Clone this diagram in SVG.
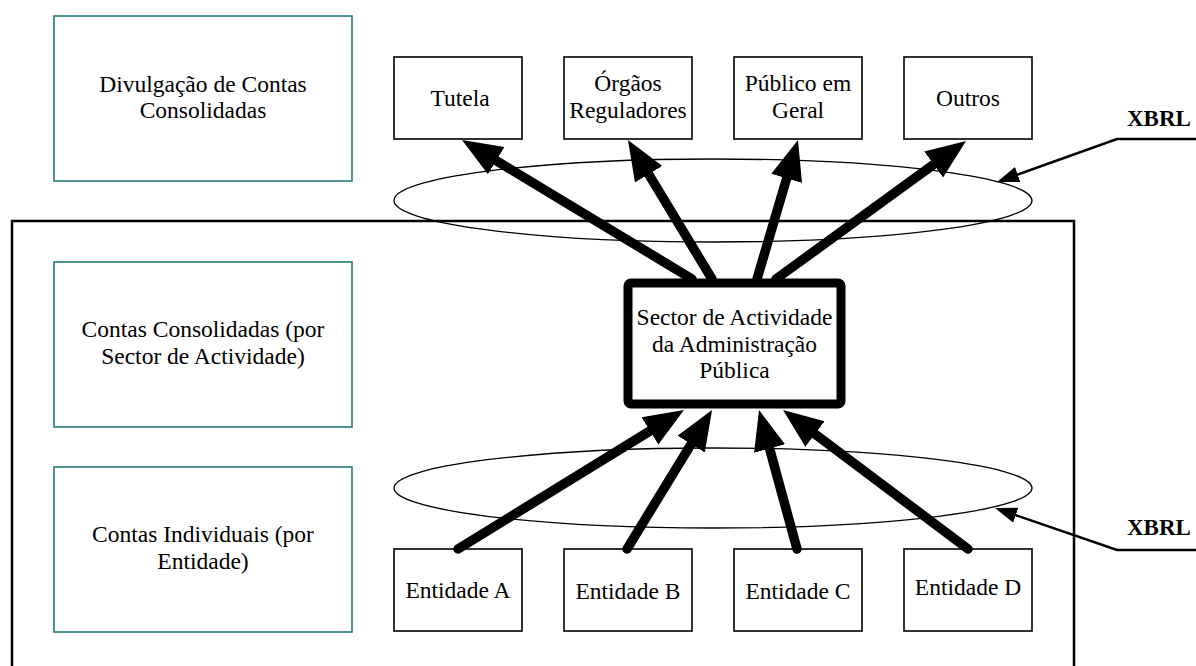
<svg xmlns="http://www.w3.org/2000/svg" width="1196" height="666" viewBox="0 0 1196 666">
<style>
text{font-family:"Liberation Serif","Times New Roman",serif;font-size:23.5px;fill:#000;text-anchor:middle}
.teal{fill:#fff;stroke:#217b79;stroke-width:1.6}
.box{fill:#fff;stroke:#000;stroke-width:1.6}
.ell{fill:none;stroke:#000;stroke-width:1.3}
.thick{fill:none;stroke:#000;stroke-width:9.5;stroke-linecap:round}
.thin{fill:none;stroke:#000;stroke-width:2.5}
.xbrl{font-weight:bold;font-size:23px;text-anchor:start}
</style>
<defs>
<marker id="big" markerUnits="userSpaceOnUse" markerWidth="44" markerHeight="36" viewBox="0 -18 44 36" refX="15" refY="0" orient="auto">
<path d="M0,-16 L40,0 L0,16 Z" fill="#000"/>
</marker>
<marker id="small" markerUnits="userSpaceOnUse" markerWidth="26" markerHeight="20" viewBox="0 -10 26 20" refX="12" refY="0" orient="auto">
<path d="M0,-8 L22,0 L0,8 Z" fill="#000"/>
</marker>
</defs>
<rect width="1196" height="666" fill="#fff"/>

<g id="ellipses">
<ellipse class="ell" cx="713" cy="200.5" rx="319" ry="41.5"/>
<ellipse class="ell" cx="713" cy="488" rx="319" ry="40"/>
</g>

<g id="container">
<rect x="12" y="221" width="1062" height="470" fill="none" stroke="#000" stroke-width="2.5"/>
</g>

<g id="divulgacao">
<rect class="teal" x="54" y="16" width="298" height="165"/>
<text x="203" y="92">Divulgação de Contas</text>
<text x="203" y="118">Consolidadas</text>
</g>
<g id="contas-consolidadas">
<rect class="teal" x="54" y="262" width="298" height="165"/>
<text x="203" y="337">Contas Consolidadas (por</text>
<text x="203" y="364">Sector de Actividade)</text>
</g>
<g id="contas-individuais">
<rect class="teal" x="54" y="467" width="298" height="165"/>
<text x="203" y="542">Contas Individuais (por</text>
<text x="203" y="569">Entidade)</text>
</g>

<g id="tutela">
<rect class="box" x="394" y="57" width="128" height="82"/>
<text x="460" y="106">Tutela</text>
</g>
<g id="orgaos">
<rect class="box" x="564" y="57" width="128" height="82"/>
<text x="628" y="91">Órgãos</text>
<text x="628" y="118">Reguladores</text>
</g>
<g id="publico">
<rect class="box" x="734" y="57" width="128" height="82"/>
<text x="798" y="91">Público em</text>
<text x="798" y="118">Geral</text>
</g>
<g id="outros">
<rect class="box" x="904" y="57" width="128" height="82"/>
<text x="968" y="106">Outros</text>
</g>

<g id="entidade-a">
<rect class="box" x="394" y="549" width="128" height="82"/>
<text x="458" y="598">Entidade A</text>
</g>
<g id="entidade-b">
<rect class="box" x="564" y="549" width="128" height="82"/>
<text x="628" y="599">Entidade B</text>
</g>
<g id="entidade-c">
<rect class="box" x="734" y="549" width="128" height="82"/>
<text x="798" y="599">Entidade C</text>
</g>
<g id="entidade-d">
<rect class="box" x="904" y="549" width="128" height="82"/>
<text x="968" y="595">Entidade D</text>
</g>

<g id="sector">
<rect x="628" y="283" width="213" height="121" rx="3" fill="#fff" stroke="#000" stroke-width="9"/>
<text x="734.5" y="325">Sector de Actividade</text>
<text x="734.5" y="352">da Administração</text>
<text x="734.5" y="378">Pública</text>
</g>

<g id="connectors">
<path class="thick" d="M692,279 L483.4,152.9" marker-end="url(#big)"/>
<path class="thick" d="M712,279 L640.9,161.4" marker-end="url(#big)"/>
<path class="thick" d="M757,279 L790.9,164" marker-end="url(#big)"/>
<path class="thick" d="M776,279 L945.8,155.7" marker-end="url(#big)"/>
<path class="thick" d="M458,549 L662.7,423.1" marker-end="url(#big)"/>
<path class="thick" d="M627,549 L699,431.3" marker-end="url(#big)"/>
<path class="thick" d="M797,549 L765.6,434.1" marker-end="url(#big)"/>
<path class="thick" d="M968,549 L803,425" marker-end="url(#big)"/>
<path class="thin" d="M1198,139 L1117,139 L1006.4,178.6" marker-end="url(#small)"/>
<path class="thin" d="M1198,550 L1117,550 L1004.5,511.3" marker-end="url(#small)"/>
</g>

<g id="xbrl-labels">
<text class="xbrl" x="1127" y="126">XBRL</text>
<text class="xbrl" x="1127" y="535">XBRL</text>
</g>
</svg>
